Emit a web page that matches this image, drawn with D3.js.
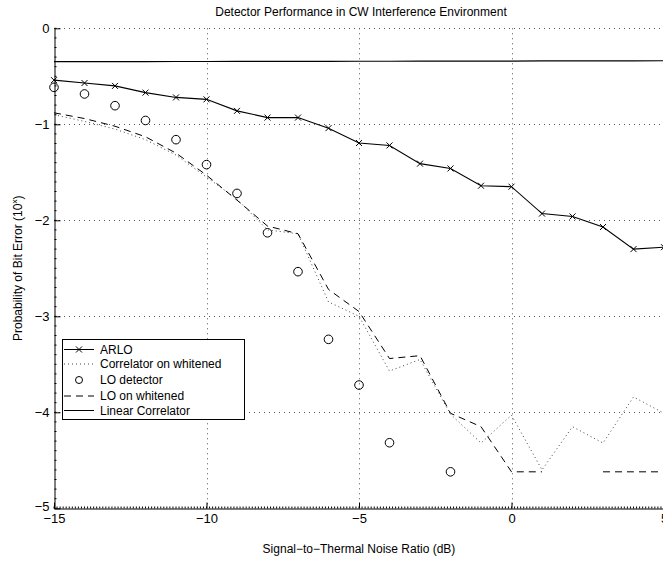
<!DOCTYPE html>
<html>
<head>
<meta charset="utf-8">
<script src="https://cdn.jsdelivr.net/npm/d3@7"></script>
<style>
  body { margin: 0; background: #fff; }
  svg { display: block; }
  text { font-family: "Liberation Sans", Arial, Helvetica, sans-serif; fill: #000; }
</style>
</head>
<body>
<div id="chart"></div>
<script>
// SNR in dB
var snr = [-15, -14, -13, -12, -11, -10, -9, -8, -7, -6, -5, -4, -3, -2, -1, 0, 1, 2, 3, 4, 5];

// log10 of bit error probability, null = no errors counted
var arlo = [-0.54, -0.57, -0.60, -0.67, -0.72, -0.74, -0.86, -0.93, -0.93, -1.04, -1.195,
            -1.22, -1.41, -1.46, -1.64, -1.65, -1.93, -1.96, -2.07, -2.30, -2.28];
var corrWhitened = [-0.90, -0.97, -1.05, -1.16, -1.32, -1.55, -1.78, -2.10, -2.14, -2.85, -3.00,
                    -3.57, -3.45, -4.02, -4.32, -4.03, -4.60, -4.15, -4.32, -3.84, -4.01];
var loDetector = [-0.615, -0.684, -0.806, -0.96, -1.16, -1.42, -1.72, -2.13, -2.535, -3.24, -3.716,
                  -4.317, null, -4.62, null, null, null, null, null, null, null];
var loWhitened = [-0.88, -0.94, -1.02, -1.13, -1.30, -1.53, -1.79, -2.06, -2.14, -2.72, -2.95,
                  -3.44, -3.41, -4.01, -4.15, -4.62, -4.62, null, -4.62, -4.62, -4.62];
var linearCorr = [-0.348, -0.348, -0.347, -0.347, -0.346, -0.346, -0.345, -0.345, -0.344, -0.344, -0.343,
                  -0.343, -0.342, -0.342, -0.341, -0.341, -0.340, -0.340, -0.339, -0.339, -0.338];

var xTicks = [-15, -10, -5, 0, 5];
var yTicks = [0, -1, -2, -3, -4, -5];

var legendNames = ["ARLO", "Correlator on whitened", "LO detector", "LO on whitened", "Linear Correlator"];

function drawChart() {
    var width = 663, height = 561;
    var left = 54, right = 664, top = 28.3, bottom = 508.3;

    var svg = d3.select("#chart")
        .append("svg")
        .attr("width", width)
        .attr("height", height);

    var x = d3.scaleLinear().domain([-15, 5]).range([left, right]);
    var y = d3.scaleLinear().domain([0, -5]).range([top, bottom]);

    // grid
    var grid = svg.append("g").attr("stroke", "#555").attr("stroke-width", 1)
        .attr("stroke-dasharray", "1,4");
    grid.selectAll(".gx").data(xTicks.slice(1)).enter().append("line")
        .attr("x1", function (d) { return Math.round(x(d)) + 0.5; })
        .attr("x2", function (d) { return Math.round(x(d)) + 0.5; })
        .attr("y1", top).attr("y2", bottom);
    grid.selectAll(".gy").data(yTicks.slice(0, -1)).enter().append("line")
        .attr("x1", left).attr("x2", right)
        .attr("y1", function (d) { return Math.round(y(d)) + 0.5; })
        .attr("y2", function (d) { return Math.round(y(d)) + 0.5; });

    // axes (ticks pointing inward)
    var fmt = d3.format("d");
    var xAxis = d3.axisBottom(x).tickValues(xTicks).tickFormat(fmt)
        .tickSizeInner(-6).tickSizeOuter(0).tickPadding(5);
    var yAxis = d3.axisLeft(y).tickValues(yTicks).tickFormat(fmt)
        .tickSizeInner(-6).tickSizeOuter(0).tickPadding(5);

    var gx = svg.append("g")
        .attr("transform", "translate(0," + (Math.round(bottom) + 0.5) + ")")
        .call(xAxis);
    var gy = svg.append("g")
        .attr("transform", "translate(" + (left + 0.5) + ",0)")
        .call(yAxis);

    // minor ticks
    var minorX = d3.range(-150, 51, 1).map(function (d) { return d / 10; });
    var minorY = d3.range(0, -51, -1).map(function (d) { return d / 10; });
    gx.append("g").selectAll("line").data(minorX).enter().append("line")
        .attr("x1", function (d) { return x(d); }).attr("x2", function (d) { return x(d); })
        .attr("y1", 0).attr("y2", -2).attr("stroke", "#000");
    gy.append("g").selectAll("line").data(minorY).enter().append("line")
        .attr("y1", function (d) { return y(d); }).attr("y2", function (d) { return y(d); })
        .attr("x1", 0).attr("x2", 2).attr("stroke", "#000");

    [gx, gy].forEach(function (g) {
        g.select(".domain").attr("stroke", "#000");
        g.selectAll(".tick line").attr("stroke", "#000");
        g.selectAll(".tick text").attr("font-size", "13px")
            .attr("font-family", "'Liberation Sans', Arial, sans-serif").attr("fill", "#000");
    });
    // lift the bottom y label a little so it clears the "-15" below it
    gy.selectAll(".tick text").filter(function (d) { return d === -5; }).attr("dy", "0.2em");

    function series(vals) {
        return snr.map(function (s, i) { return [s, vals[i]]; });
    }
    var line = d3.line()
        .defined(function (d) { return d[1] != null; })
        .x(function (d) { return x(d[0]); })
        .y(function (d) { return y(d[1]); });

    var plot = svg.append("g");

    plot.append("path").datum(series(linearCorr))
        .attr("d", line).attr("fill", "none").attr("stroke", "#000").attr("stroke-width", 1.2);

    plot.append("path").datum(series(corrWhitened))
        .attr("d", line).attr("fill", "none").attr("stroke", "#444").attr("stroke-width", 1)
        .attr("stroke-dasharray", "1,3");

    plot.append("path").datum(series(loWhitened))
        .attr("d", line).attr("fill", "none").attr("stroke", "#000").attr("stroke-width", 1)
        .attr("stroke-dasharray", "7,5");

    plot.append("path").datum(series(arlo))
        .attr("d", line).attr("fill", "none").attr("stroke", "#000").attr("stroke-width", 1.1);

    var xm = 3;
    plot.selectAll(".xm").data(series(arlo)).enter().append("path")
        .attr("d", function (d) {
            var cx = x(d[0]), cy = y(d[1]);
            return "M" + (cx - xm) + "," + (cy - xm) + "L" + (cx + xm) + "," + (cy + xm) +
                "M" + (cx - xm) + "," + (cy + xm) + "L" + (cx + xm) + "," + (cy - xm);
        })
        .attr("stroke", "#000").attr("stroke-width", 1);

    plot.selectAll(".om").data(series(loDetector).filter(function (d) { return d[1] != null; }))
        .enter().append("circle")
        .attr("cx", function (d) { return x(d[0]); })
        .attr("cy", function (d) { return y(d[1]); })
        .attr("r", 4.3)
        .attr("fill", "none").attr("stroke", "#000").attr("stroke-width", 1);

    // legend
    var lg = svg.append("g").attr("transform", "translate(62.5,339.5)");
    lg.append("rect").attr("width", 182).attr("height", 80)
        .attr("fill", "#fff").attr("stroke", "#000").attr("stroke-width", 1);
    var rowY = [10, 24.5, 40.5, 56.5, 71];
    legendNames.forEach(function (name, i) {
        var yy = rowY[i];
        lg.append("text").attr("x", 37.5).attr("y", yy).attr("dy", "0.35em")
            .attr("font-size", "12px").text(name);
        if (i === 0) {
            lg.append("line").attr("x1", 1.5).attr("x2", 31.5).attr("y1", yy).attr("y2", yy)
                .attr("stroke", "#000");
            lg.append("path").attr("d", "M13.5," + (yy - 3) + "L19.5," + (yy + 3) +
                "M13.5," + (yy + 3) + "L19.5," + (yy - 3)).attr("stroke", "#000");
        } else if (i === 1) {
            lg.append("line").attr("x1", 1.5).attr("x2", 31.5).attr("y1", yy).attr("y2", yy)
                .attr("stroke", "#444").attr("stroke-dasharray", "1,3");
        } else if (i === 2) {
            lg.append("circle").attr("cx", 16.5).attr("cy", yy).attr("r", 3.5)
                .attr("fill", "none").attr("stroke", "#000");
        } else if (i === 3) {
            lg.append("line").attr("x1", 1.5).attr("x2", 31.5).attr("y1", yy).attr("y2", yy)
                .attr("stroke", "#000").attr("stroke-dasharray", "7,5");
        } else {
            lg.append("line").attr("x1", 1.5).attr("x2", 31.5).attr("y1", yy).attr("y2", yy)
                .attr("stroke", "#000");
        }
    });

    // title and axis labels
    svg.append("text").attr("x", 361).attr("y", 16).attr("text-anchor", "middle")
        .attr("font-size", "12px").text("Detector Performance in CW Interference Environment");
    svg.append("text").attr("x", 359).attr("y", 553).attr("text-anchor", "middle")
        .attr("font-size", "12px").text("Signal\u2212to\u2212Thermal Noise Ratio (dB)");

    var yl = svg.append("text")
        .attr("transform", "translate(22," + ((top + bottom) / 2) + ") rotate(-90)")
        .attr("text-anchor", "middle").attr("font-size", "12px");
    yl.append("tspan").text("Probability of Bit Error (10");
    yl.append("tspan").attr("font-size", "8px").attr("dy", "-5").text("x");
    yl.append("tspan").attr("dy", "5").text(")");
}

window.addEventListener("load", function () {
    drawChart();
});
</script>
</body>
</html>
